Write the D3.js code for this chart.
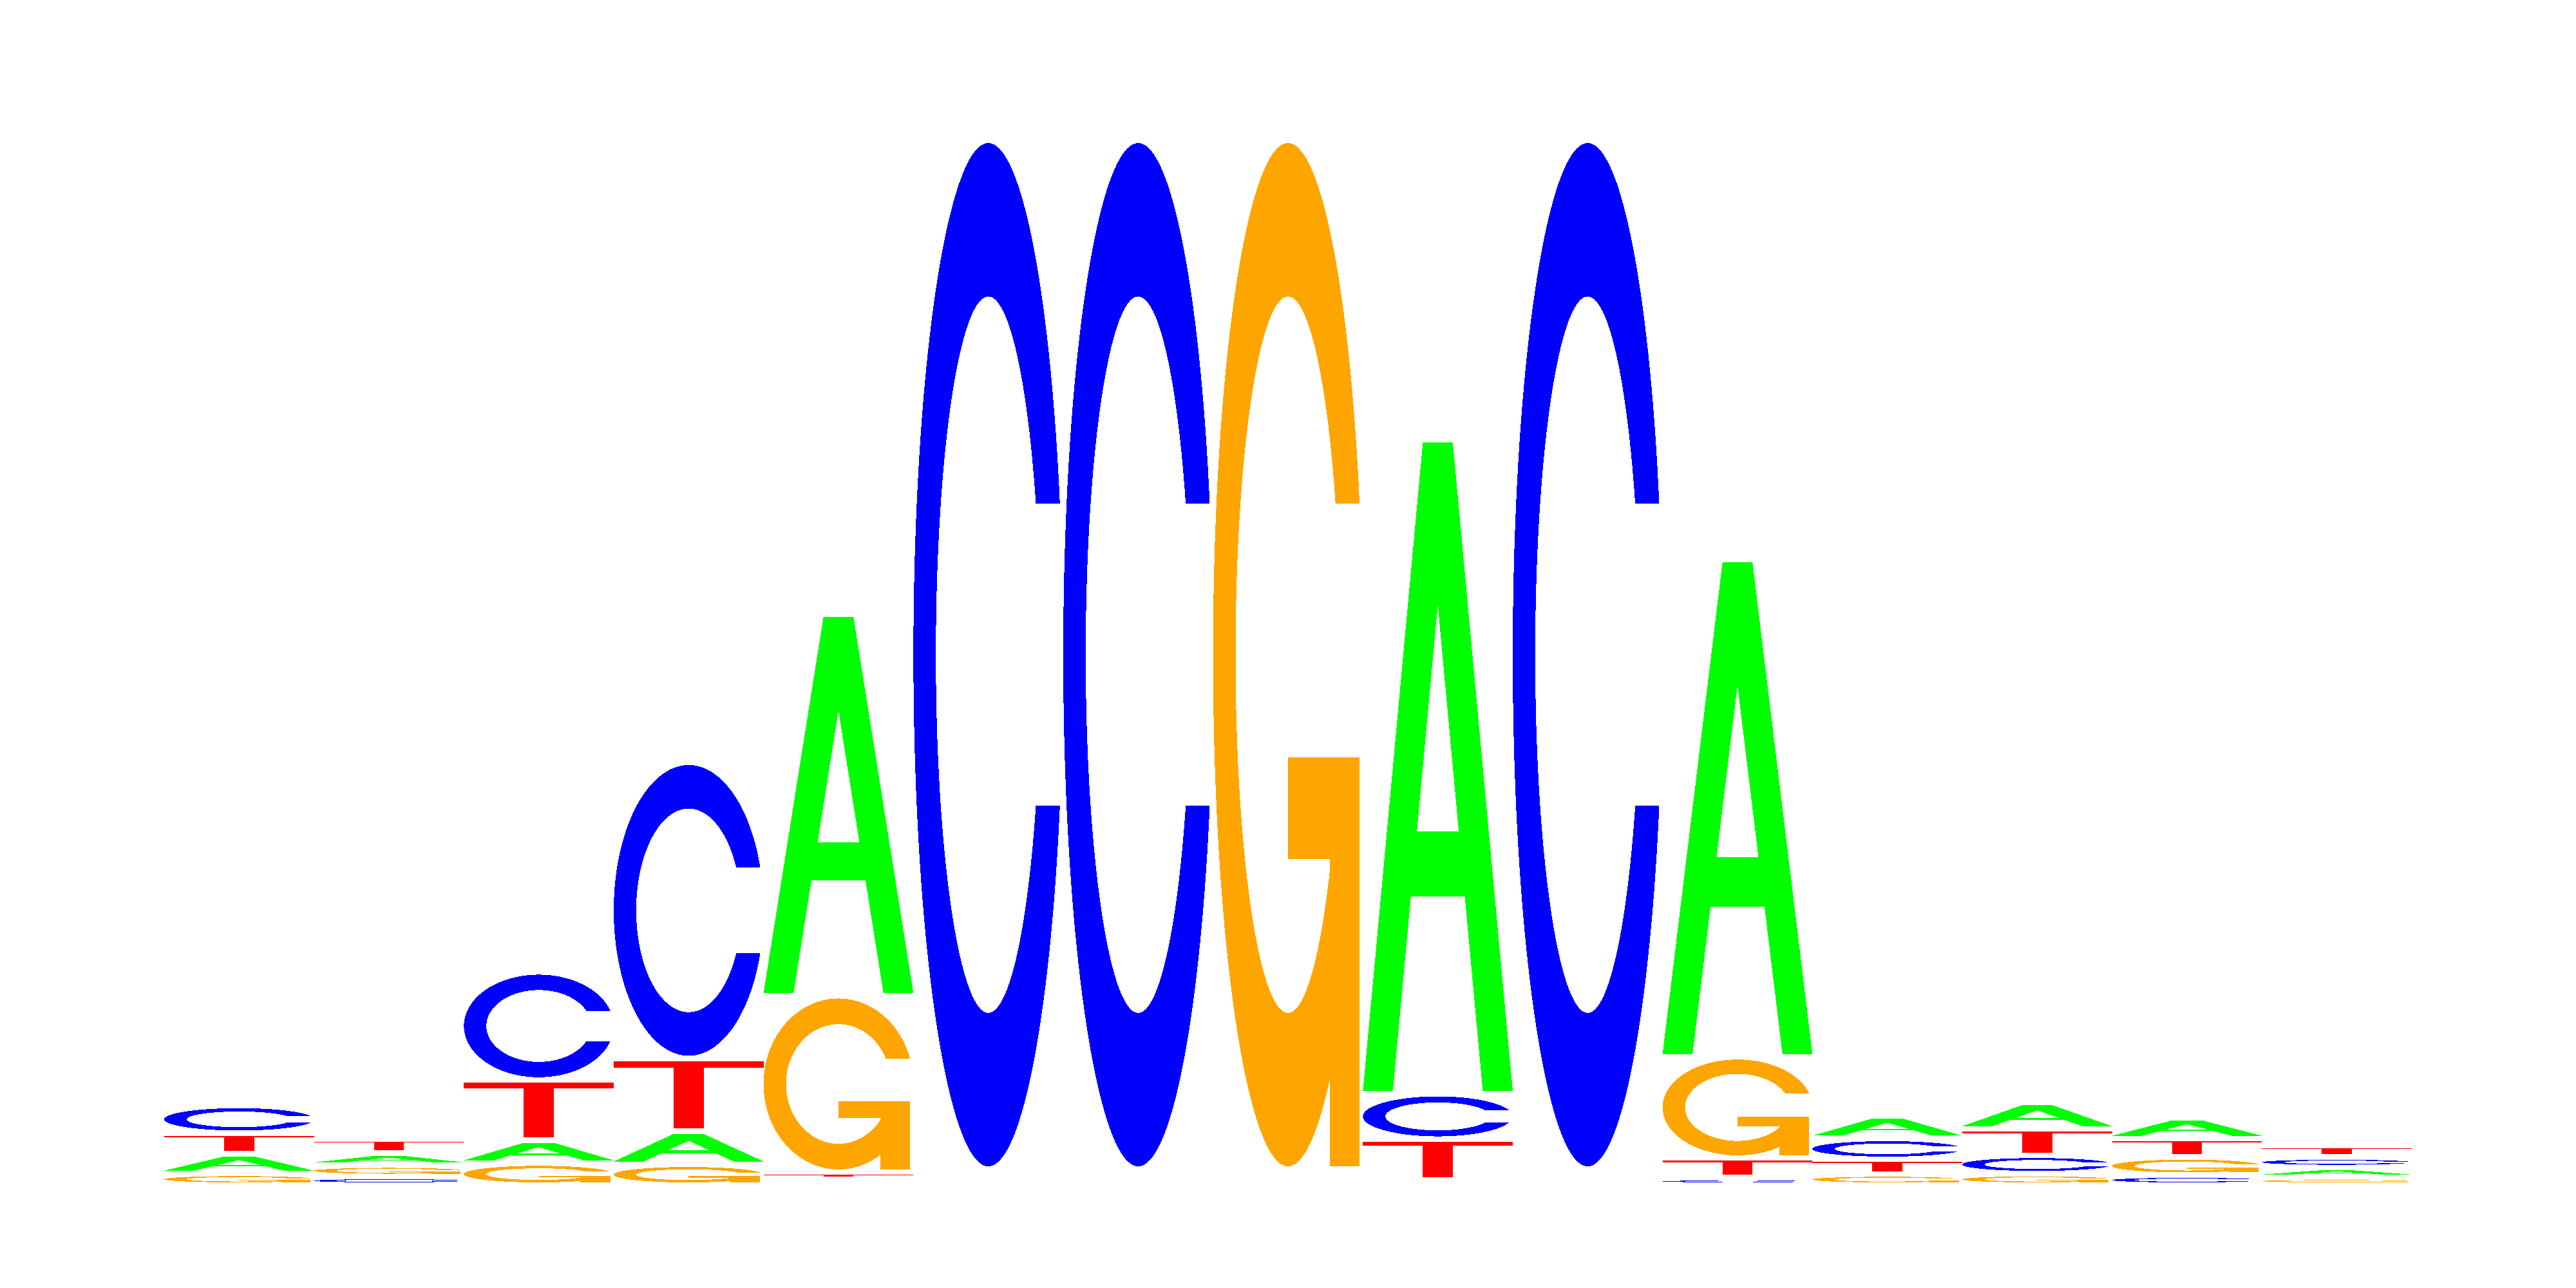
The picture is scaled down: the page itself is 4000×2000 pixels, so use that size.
<!DOCTYPE html>
<html>
<head>
<meta charset="utf-8">
<script src="https://cdn.jsdelivr.net/npm/d3@7"></script>
<style>
    body { margin: 0; background: #ffffff; }
</style>
</head>
<body>
<svg id="logo" width="4000" height="2000"></svg>
<script>

// motif positions and the information (bits) each base gets there
var positions = [1, 2, 3, 4, 5, 6, 7, 8, 9, 10, 11, 12, 13, 14, 15];
var bases = ["A", "C", "G", "T"];
var baseColors = ["#00ff00", "#0000ff", "#ffa500", "#ff0000"];

var heightA = [0.0376, 0.0228, 0.0441, 0.0632, 0.7300, 0.0103, 0.0103, 0.0103, 1.2502, 0.0103, 0.9510, 0.0433, 0.0507, 0.0400, 0.0187];
var heightC = [0.0532, 0.0166, 0.2067, 0.5665, 0.0105, 1.9674, 1.9674, 0.0102, 0.0868, 1.9674, 0.0142, 0.0400, 0.0351, 0.0191, 0.0200];
var heightG = [0.0224, 0.0216, 0.0421, 0.0399, 0.3374, 0.0102, 0.0102, 1.9674, 0.0102, 0.0102, 0.1936, 0.0212, 0.0219, 0.0349, 0.0150];
var heightT = [0.0392, 0.0273, 0.1148, 0.1390, 0.0142, 0.0101, 0.0101, 0.0101, 0.0778, 0.0101, 0.0376, 0.0281, 0.0505, 0.0351, 0.0216];

var overAllWidth = 4000;
var overAllHeight = 2000;
var letterGap = 8.5;

function main() {
    drawLogo();
}

// ring used by C and G, points in a unit box (v goes up)
function ringShape() {
    var n = 100;
    var a1 = d3.range(n).map(function (i) { return 0.3 + Math.PI / 2 + i * (Math.PI / 2 - 0.3) / (n - 1); });
    var a2 = d3.range(n).map(function (i) { return Math.PI + i * (Math.PI / 2) / (n - 1); });

    var outerLow = a1.concat(a2).map(function (a) { return [0.5 + 0.5 * Math.sin(a), 0.5 + 0.5 * Math.cos(a)]; });
    var cut = d3.max(a1, function (a) { return 0.5 + 0.5 * Math.cos(a); });

    var inner1 = a1.map(function (a) { return [0.5 + 0.35 * Math.sin(a), 0.5 + 0.35 * Math.cos(a)]; })
        .filter(function (p) { return p[1] <= cut; });
    inner1[0] = [inner1[0][0], cut];
    var inner2 = a2.map(function (a) { return [0.5 + 0.35 * Math.sin(a), 0.5 + 0.35 * Math.cos(a)]; });
    var innerLow = inner1.concat(inner2);

    var outer = outerLow.concat(outerLow.slice().reverse().map(function (p) { return [p[0], 1 - p[1]]; }));
    var inner = innerLow.concat(innerLow.slice().reverse().map(function (p) { return [p[0], 1 - p[1]]; }));

    return outer.concat(inner.reverse());
}

function glyphParts(base) {
    if (base === "A") {
        var outer = [[0, 0], [0.4, 1], [0.6, 1], [1, 0], [0.8, 0], [0.68, 0.3], [0.32, 0.3], [0.2, 0]];
        var hole = [[0.36, 0.4], [0.5, 0.75], [0.64, 0.4]];
        return [[outer, hole]];
    }
    if (base === "C") {
        return [[ringShape()]];
    }
    if (base === "G") {
        var r1 = 0.5 + 0.5 * Math.cos(0.3);
        var bar = [[r1, 0.4], [0.5, 0.4], [0.5, 0.3], [r1 - 0.2, 0.3], [r1 - 0.2, 0], [r1, 0]];
        return [[ringShape()], [bar]];
    }
    // T
    return [[[[0, 1], [1, 1], [1, 0.9], [0.6, 0.9], [0.6, 0], [0.4, 0], [0.4, 0.9], [0, 0.9]]]];
}

function drawLogo() {
    var heights = [heightA, heightC, heightG, heightT];

    var x = d3.scaleBand()
        .domain(positions)
        .range([255, 3745])
        .padding(0);

    var y = d3.scaleLinear()
        .domain([0, 2])
        .range([1836, 212]);

    // stack letters per column, smallest at the bottom
    var letters = [];
    positions.forEach(function (p, i) {
        var col = bases.map(function (b, j) {
            return { pos: p, base: b, color: baseColors[j], h: heights[j][i] };
        });
        col.sort(function (a, b) { return a.h - b.h; });
        var acc = 0;
        col.forEach(function (d) {
            d.y0 = acc;
            acc += d.h;
            d.y1 = acc;
            letters.push(d);
        });
    });

    var svg = d3.select('#logo')
        .attr('width', overAllWidth)
        .attr('height', overAllHeight);

    svg.append('rect')
        .attr('width', overAllWidth)
        .attr('height', overAllHeight)
        .attr('fill', '#ffffff');

    var shown = letters.filter(function (d) {
        return (y(d.y0) - (y(d.y1) + letterGap)) > 0.5;
    });

    var nodes = svg.append('g')
        .selectAll('g')
        .data(shown)
        .enter()
        .append('g')
        .attr('class', 'letter');

    nodes.append('title')
        .text(function (d) { return d.base; });

    nodes.each(function (d) {
        var left = x(d.pos);
        var w = x.bandwidth();
        var bottom = y(d.y0);
        var top = y(d.y1) + letterGap;
        var h = bottom - top;

        var line = d3.line()
            .x(function (p) { return left + p[0] * w; })
            .y(function (p) { return bottom - p[1] * h; });

        var g = d3.select(this);
        glyphParts(d.base).forEach(function (part) {
            g.append('path')
                .attr('d', part.map(function (poly) { return line(poly) + 'Z'; }).join(''))
                .attr('fill', d.color)
                .attr('fill-rule', 'evenodd')
                .attr('shape-rendering', 'crispEdges');
        });
    });
}

main();
</script>
</body>
</html>
